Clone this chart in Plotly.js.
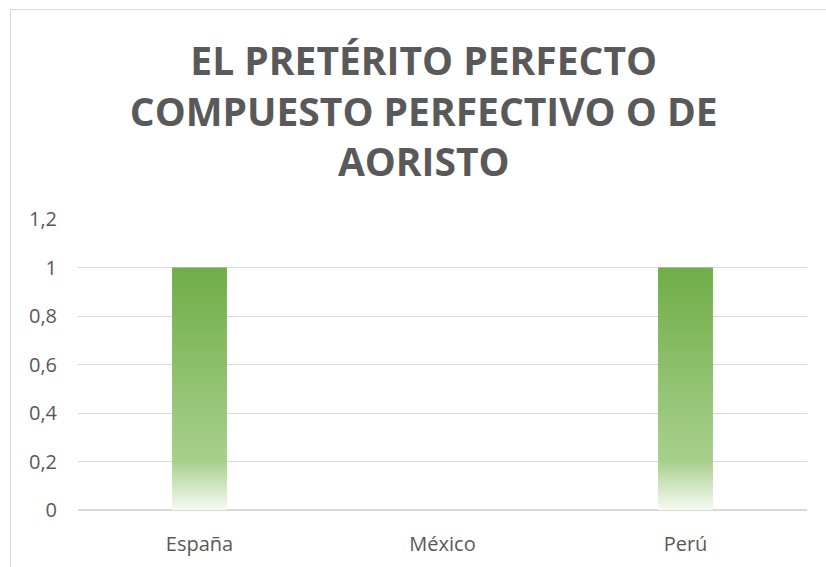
<!DOCTYPE html>
<html>
<head>
<meta charset="utf-8">
<script src="https://cdn.plot.ly/plotly-3.0.1.min.js"></script>
<style>
  html, body { margin: 0; padding: 0; background: #ffffff; overflow: hidden; }
  #frame { position: absolute; left: 10px; top: 9px; width: 900px; height: 700px; border: 1px solid #D9D9D9; }
  #chart { position: absolute; left: 0; top: 0; width: 826px; height: 567px; }
</style>
</head>
<body>
<div id="frame"></div>
<div id="chart"></div>
<script>
const categories = ["España", "México", "Perú"];
const values = [1, 0, 1];
const yTickVals = [0, 0.2, 0.4, 0.6, 0.8, 1, 1.2];
const titleText = "EL PRETÉRITO PERFECTO<br>COMPUESTO PERFECTIVO O DE<br>AORISTO";

const barHalfWidth = 0.113;
const traces = [];
categories.forEach((cat, i) => {
  const v = values[i];
  if (v <= 0) return;
  traces.push({
    type: 'scatter',
    mode: 'lines',
    x: [i - barHalfWidth, i + barHalfWidth, i + barHalfWidth, i - barHalfWidth, i - barHalfWidth],
    y: [0, 0, v, v, 0],
    fill: 'toself',
    fillcolor: 'rgb(140,190,106)',
    fillgradient: {
      type: 'vertical',
      colorscale: [[0, 'rgb(246,250,243)'], [0.2, 'rgb(168,208,141)'], [1, 'rgb(112,173,71)']]
    },
    line: { width: 0, color: 'rgba(0,0,0,0)' },
    name: cat,
    hoverinfo: 'skip',
    showlegend: false
  });
});

const layout = {
  width: 826,
  height: 567,
  paper_bgcolor: 'rgba(0,0,0,0)',
  plot_bgcolor: 'rgba(0,0,0,0)',
  separators: ',.',
  margin: { l: 78, r: 19, t: 219, b: 57 },
  showlegend: false,
  title: {
    text: titleText,
    font: { family: 'Open Sans', size: 39, color: '#595959', weight: 'bold' },
    x: 0.513,
    xanchor: 'center',
    y: 1 - 75 / 567,
    yanchor: 'top'
  },
  xaxis: {
    type: 'linear',
    range: [-0.5, 2.5],
    tickvals: categories.map((c, i) => i),
    ticktext: categories,
    showgrid: false,
    zeroline: false,
    showline: false,
    ticks: '',
    ticklabelstandoff: 20,
    tickfont: { family: 'Open Sans', size: 20, color: '#595959' },
    fixedrange: true
  },
  yaxis: {
    range: [0, 1.2],
    tickvals: yTickVals,
    showgrid: true,
    gridcolor: '#D9D9D9',
    gridwidth: 1,
    zeroline: true,
    zerolinecolor: '#D9D9D9',
    zerolinewidth: 1.5,
    showline: false,
    ticks: '',
    ticklabelstandoff: 20,
    tickfont: { family: 'Open Sans', size: 20, color: '#595959' },
    fixedrange: true
  }
};

Plotly.newPlot('chart', traces, layout, { displayModeBar: false, staticPlot: true });
</script>
</body>
</html>
